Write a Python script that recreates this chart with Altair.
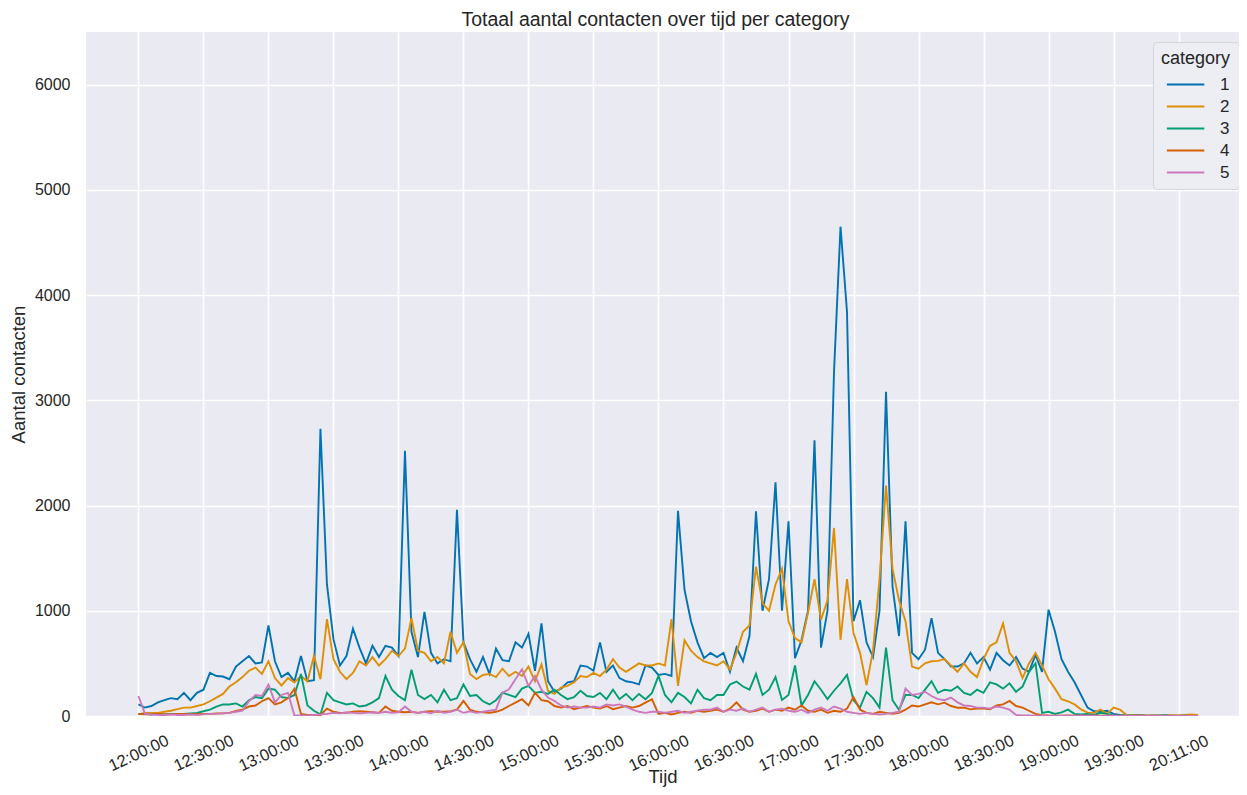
import altair as alt
import pandas as pd

# minute index (one sample every 3 minutes from 12:00)
minutes = list(range(0, 490, 3))

cat1 = [110, 80, 95, 130, 150, 170, 160, 220, 150, 220,
        250, 410, 380, 375, 350, 470, 520, 570, 500, 510,
        860, 520, 370, 410, 330, 570, 330, 340, 2730, 1250,
        730, 480, 570, 830, 650, 500, 667, 560, 667, 650,
        570, 2520, 800, 560, 990, 600, 500, 540, 520, 1960,
        700, 540, 420, 560, 400, 640, 530, 520, 700, 650,
        780, 430, 880, 330, 230, 260, 320, 330, 480, 470,
        430, 700, 420, 480, 360, 330, 320, 300, 480, 460,
        390, 400, 380, 1950, 1200, 900, 700, 550, 600, 560,
        600, 420, 650, 520, 760, 1946, 1000, 1300, 2220, 1000,
        1850, 550, 720, 1000, 2620, 650, 1000, 3270, 4650, 3840,
        900, 1100, 700, 560, 1000, 3080, 1232, 760, 1850, 600,
        540, 630, 930, 600, 540, 470, 470, 500, 600, 500,
        560, 440, 600, 530, 480, 560, 450, 420, 580, 420,
        1010, 800, 540, 420, 320, 200, 80, 45, 40, 50,
        20, 10, 8, 5, 10, 5, 3, 5, 8, 3,
        2, 5, 3, 2]

cat2 = [15, 30, 30, 30, 40, 50, 65, 80, 80, 95,
        110, 140, 175, 210, 280, 320, 370, 430, 460, 400,
        520, 360, 290, 360, 320, 380, 330, 570, 350, 920,
        540, 420, 350, 410, 520, 480, 560, 480, 540, 620,
        570, 640, 930, 620, 600, 520, 560, 500, 800, 600,
        700, 400, 350, 390, 400, 370, 450, 380, 420, 380,
        470, 330, 490, 240, 210, 270, 286, 320, 380, 370,
        410, 380, 440, 540, 460, 420, 460, 500, 480, 480,
        500, 480, 920, 286, 720, 620, 560, 520, 500, 480,
        520, 440, 600, 800, 860, 1420, 1073, 1000, 1250, 1400,
        900, 740, 700, 980, 1300, 914, 1100, 1787, 724, 1300,
        790, 600, 295, 620, 1300, 2190, 1400, 1100, 900, 470,
        450, 500, 520, 524, 540, 480, 420, 500, 420, 370,
        540, 667, 700, 880, 600, 520, 360, 500, 600, 480,
        349, 260, 159, 140, 110, 63, 32, 30, 60, 20,
        80, 60, 10, 5, 8, 5, 3, 5, 3, 8,
        5, 10, 15, 10]

cat3 = [20, 20, 15, 20, 15, 20, 20, 20, 25, 30,
        45, 60, 90, 110, 110, 120, 90, 150, 180, 170,
        260, 250, 180, 170, 200, 400, 100, 50, 15, 220,
        150, 130, 110, 120, 90, 100, 130, 170, 380, 250,
        190, 150, 440, 200, 160, 200, 130, 250, 150, 170,
        300, 190, 200, 140, 110, 150, 222, 200, 180, 260,
        286, 220, 230, 210, 250, 200, 160, 180, 240, 190,
        180, 220, 160, 250, 160, 210, 150, 210, 160, 220,
        381, 200, 130, 220, 180, 120, 250, 170, 150, 200,
        200, 300, 327, 280, 250, 400, 200, 250, 370, 152,
        200, 480, 100, 200, 330, 250, 160, 240, 310, 390,
        150, 80, 230, 170, 80, 650, 150, 60, 200, 200,
        170, 250, 330, 220, 250, 240, 280, 220, 200, 250,
        220, 320, 300, 260, 310, 230, 280, 420, 500, 30,
        40, 20, 35, 60, 20, 15, 20, 10, 30, 20,
        5, 3, 2, 3, 2, 1, 2, 1, 2, 1,
        1, 2, 1, 1]

cat4 = [20, 15, 15, 20, 15, 15, 20, 20, 15, 20,
        20, 20, 25, 25, 30, 48, 60, 90, 100, 140,
        170, 110, 130, 170, 260, 20, 10, 10, 10, 70,
        40, 30, 30, 40, 45, 40, 35, 30, 90, 50,
        40, 35, 40, 30, 40, 45, 40, 40, 45, 60,
        143, 60, 40, 35, 30, 40, 60, 95, 127, 159,
        100, 222, 150, 140, 95, 80, 95, 65, 80, 95,
        80, 70, 95, 65, 80, 95, 80, 95, 127, 159,
        20, 30, 15, 30, 40, 30, 50, 40, 50, 60,
        40, 70, 130, 60, 40, 50, 70, 40, 60, 50,
        80, 60, 100, 50, 40, 60, 30, 50, 40, 70,
        180, 60, 30, 20, 40, 30, 20, 30, 60, 100,
        90, 110, 130, 111, 127, 95, 79, 80, 63, 70,
        70, 65, 100, 110, 143, 95, 80, 50, 20, 8,
        5, 4, 3, 5, 3, 2, 4, 3, 2, 3,
        2, 2, 1, 2, 1, 1, 2, 1, 1, 1,
        1, 1, 1, 1]

cat5 = [190, 20, 15, 10, 10, 15, 10, 10, 15, 10,
        15, 20, 20, 25, 30, 40, 50, 140, 200, 190,
        300, 130, 200, 220, 5, 5, 5, 10, 15, 20,
        30, 25, 35, 30, 25, 30, 35, 30, 40, 30,
        35, 90, 40, 30, 40, 25, 50, 30, 40, 60,
        30, 45, 30, 40, 50, 60, 222, 254, 349, 444,
        286, 380, 250, 175, 143, 100, 80, 90, 80, 80,
        90, 80, 110, 100, 110, 90, 60, 40, 30, 40,
        40, 30, 40, 50, 30, 40, 50, 60, 60, 80,
        40, 60, 50, 70, 40, 60, 80, 40, 60, 70,
        50, 40, 60, 30, 60, 80, 50, 90, 70, 40,
        30, 20, 30, 20, 15, 20, 30, 40, 260, 200,
        210, 230, 190, 160, 150, 175, 130, 100, 95, 80,
        80, 70, 90, 80, 60, 10, 5, 5, 3, 5,
        3, 2, 3, 2, 4, 2, 3, 2, 1, 2,
        2, 1, 2, 1, 1, 2, 1, 1, 1, 1,
        1, 1, 1, 1]

categories = ["1", "2", "3", "4", "5"]
colors = ["#0173B2", "#DE8F05", "#029E73", "#D55E00", "#CC78BC"]

tick_positions = list(range(0, 481, 30))
tick_labels = ["12:00:00", "12:30:00", "13:00:00", "13:30:00", "14:00:00",
               "14:30:00", "15:00:00", "15:30:00", "16:00:00", "16:30:00",
               "17:00:00", "17:30:00", "18:00:00", "18:30:00", "19:00:00",
               "19:30:00", "20:11:00"]
y_ticks = [0, 1000, 2000, 3000, 4000, 5000, 6000]

rows = []
for cat, vals in zip(categories, [cat1, cat2, cat3, cat4, cat5]):
    for m, v in zip(minutes, vals):
        rows.append({"idx": m, "aantal": v, "category": cat})
df = pd.DataFrame(rows)

label_expr = "[" + ",".join("'%s'" % t for t in tick_labels) + "][round(datum.value / 30)]"

FONT = "Liberation Sans"
TXT = "#262626"

chart = alt.Chart(df).mark_line(strokeWidth=1.9, clip=True).encode(
    x=alt.X("idx:Q",
            scale=alt.Scale(domain=[-24.2, 507.9], nice=False, zero=False),
            axis=alt.Axis(values=tick_positions, labelExpr=label_expr, title="Tijd",
                          labelAngle=335, labelAlign="center", labelBaseline="middle",
                          labelPadding=37, labelFontSize=16.5, labelOverlap=False,
                          labelBound=False, ticks=False, tickSize=0,
                          domain=False, titleY=60, titleBaseline="middle")),
    y=alt.Y("aantal:Q",
            scale=alt.Scale(domain=[0, 6500], nice=False),
            axis=alt.Axis(values=y_ticks, title="Aantal contacten", ticks=False,
                          tickSize=0, domain=False, labelPadding=16, titlePadding=6,
                          format="d", labelOverlap=False)),
    color=alt.Color("category:N",
                    scale=alt.Scale(domain=categories, range=colors),
                    legend=alt.Legend(title="category", orient="none",
                                      legendX=1067, legendY=10,
                                      symbolType="M-0.6,0L2.8,0", symbolSize=484,
                                      symbolStrokeWidth=2.2,
                                      fillColor="#EDEDF4", strokeColor="#D4D4DC",
                                      cornerRadius=4, padding=8, rowPadding=1,
                                      titleFontWeight="normal", titleFontSize=18,
                                      labelFontSize=17, titleColor=TXT,
                                      labelColor=TXT, titlePadding=4,
                                      labelOffset=34)),
).properties(
    width=1153, height=684,
    title=alt.TitleParams("Totaal aantal contacten over tijd per category",
                          fontSize=19.5, fontWeight="normal", color=TXT,
                          offset=2, dx=-7),
    autosize=alt.AutoSizeParams(type="none"),
    padding={"left": 78, "top": 24, "right": 0, "bottom": 71},
).configure(font=FONT).configure_view(
    fill="#EAEAF2", stroke=None
).configure_axis(
    gridColor="white", gridWidth=1.6, labelFontSize=16, titleFontSize=18.5,
    labelColor=TXT, titleColor=TXT, titleFontWeight="normal",
    labelFont=FONT, titleFont=FONT
)

chart.save("out.html", embed_options={"renderer": "svg", "actions": False})
